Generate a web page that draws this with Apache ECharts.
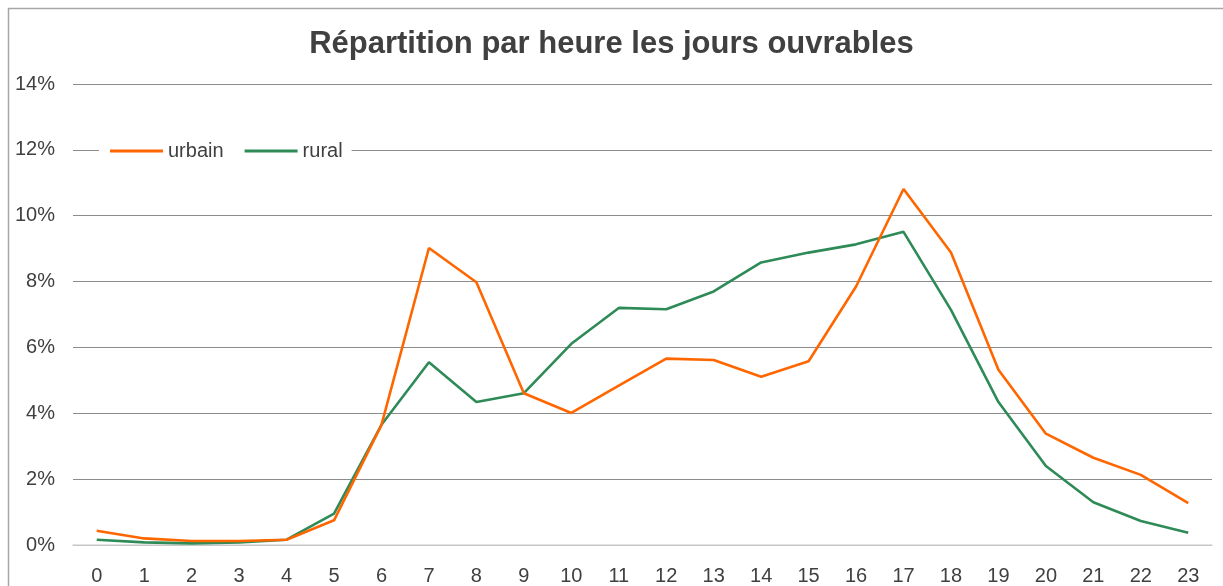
<!DOCTYPE html>
<html>
<head>
<meta charset="utf-8">
<script src="https://cdn.jsdelivr.net/npm/echarts@6/dist/echarts.min.js"></script>
<style>
  html, body { margin: 0; padding: 0; background: #fff; }
  #chart { width: 1223px; height: 586px; }
</style>
</head>
<body>
<div id="chart"></div>
<script>
// heures
const hours = ['0','1','2','3','4','5','6','7','8','9','10','11','12','13','14','15','16','17','18','19','20','21','22','23'];
// part (%) des déplacements par heure
const urbain = [0.43, 0.2, 0.12, 0.12, 0.16, 0.75, 3.65, 9.02, 7.98, 4.61, 4.01, 4.84, 5.66, 5.62, 5.11, 5.58, 7.85, 10.81, 8.88, 5.32, 3.38, 2.65, 2.13, 1.27];
const rural = [0.16, 0.08, 0.05, 0.08, 0.16, 0.95, 3.65, 5.55, 4.34, 4.61, 6.11, 7.2, 7.16, 7.7, 8.58, 8.88, 9.13, 9.51, 7.14, 4.34, 2.4, 1.3, 0.73, 0.37];

const textColor = '#404040';
const font = 'Liberation Sans, Arial, sans-serif';

const chart = echarts.init(document.getElementById('chart'));
chart.setOption({
  animation: false,
  textStyle: { fontFamily: font },
  title: {
    text: 'Répartition par heure les jours ouvrables',
    left: 'center',
    top: 24,
    textStyle: { fontSize: 31, fontWeight: 'bold', color: textColor, fontFamily: font }
  },
  // cadre du graphique
  graphic: [{
    type: 'rect',
    shape: { x: 8.5, y: 8.5, width: 1240, height: 620 },
    style: { fill: 'none', stroke: '#a6a6a6', lineWidth: 1.5 },
    silent: true
  }],
  legend: {
    data: ['urbain', 'rural'],
    left: 99,
    top: 138,
    padding: [3, 9, 3, 11],
    backgroundColor: '#fff',
    icon: 'rect',
    itemWidth: 53,
    itemHeight: 3,
    itemGap: 21,
    textStyle: { fontSize: 20, color: textColor, fontFamily: font }
  },
  grid: { left: 73, right: 11, top: 84, bottom: 41 },
  xAxis: {
    type: 'category',
    data: hours,
    boundaryGap: true,
    axisLine: { lineStyle: { color: '#d9d9d9', width: 1.5 } },
    axisTick: { show: false },
    axisLabel: { color: textColor, fontSize: 20, margin: 21, fontFamily: font }
  },
  yAxis: {
    type: 'value',
    min: 0,
    max: 14,
    interval: 2,
    axisLine: { show: false },
    axisTick: { show: false },
    axisLabel: { color: textColor, fontSize: 20, margin: 18, formatter: '{value}%', fontFamily: font, padding: [4, 0, 0, 0] },
    splitLine: { lineStyle: { color: '#8c8c8c', width: 1.2 } }
  },
  series: [
    {
      name: 'urbain',
      type: 'line',
      data: urbain,
      showSymbol: false,
      symbol: 'none',
      color: '#ff6600',
      lineStyle: { width: 2.6, color: '#ff6600' },
      z: 3
    },
    {
      name: 'rural',
      type: 'line',
      data: rural,
      showSymbol: false,
      symbol: 'none',
      color: '#2e8b57',
      lineStyle: { width: 2.6, color: '#2e8b57' },
      z: 2
    }
  ]
});
</script>
</body>
</html>
